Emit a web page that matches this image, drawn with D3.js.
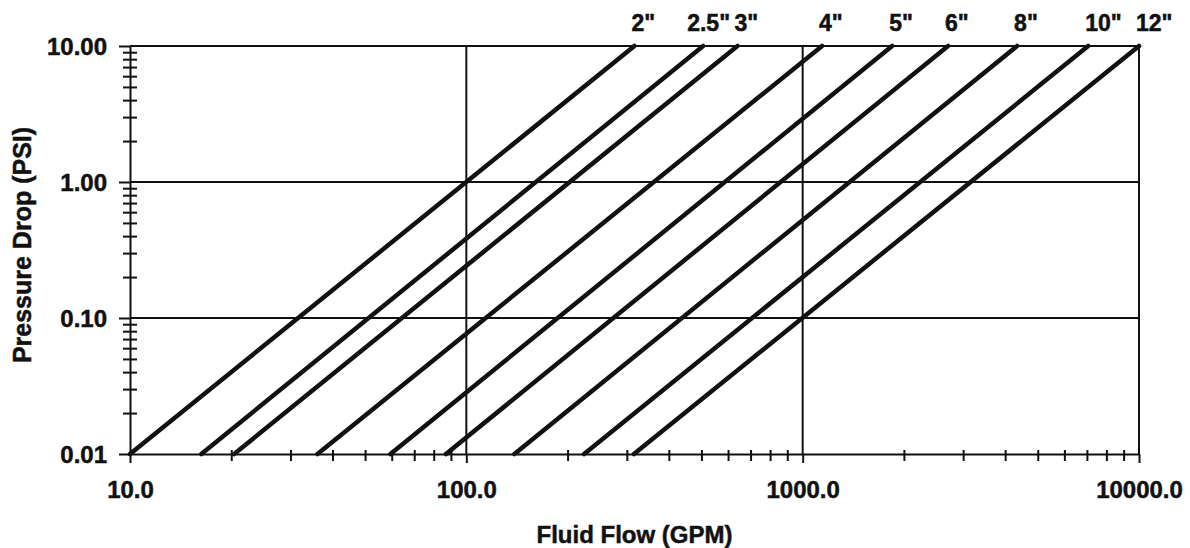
<!DOCTYPE html>
<html>
<head>
<meta charset="utf-8">
<script src="https://cdn.jsdelivr.net/npm/d3@7"></script>
<style>
  html, body { margin: 0; padding: 0; background: #fff; }
  svg { display: block; }
  text { font-family: "Liberation Sans", Arial, sans-serif; font-weight: bold; fill: #111; stroke: #111; stroke-width: 0.5px; }
</style>
</head>
<body>
<svg id="chart" width="1190" height="548"></svg>
<script>
// ---- data ----
const pipeSizes = ['2"', '2.5"', '3"', '4"', '5"', '6"', '8"', '10"', '12"'];
// flow (GPM) where each line meets P = 0.01 psi (bottom) and P = 10 psi (top)
const flowAtMinPressure = [10, 16.3, 20.4, 36.1, 59.5, 87, 139, 224, 315];
const flowAtMaxPressure = [316, 506, 640, 1142, 1845, 2706, 4341, 7060, 10000];
const pressureMin = 0.01;
const pressureMax = 10;
const xMajorTicks = [10, 100, 1000, 10000];
const xMajorLabels = ["10.0", "100.0", "1000.0", "10000.0"];
const yMajorTicks = [0.01, 0.1, 1, 10];
const yMajorLabels = ["0.01", "0.10", "1.00", "10.00"];
const xTitle = "Fluid Flow (GPM)";
const yTitle = "Pressure Drop (PSI)";

// ---- layout ----
const svg = d3.select("#chart");
const L = 130, R = 1139, T = 46, B = 454;
const ink = "#111";
const labelShift = { '2.5"': -13 };

const x = d3.scaleLog().domain([10, 10000]).range([L, R]);
const y = d3.scaleLog().domain([0.01, 10]).range([B, T]);

const minorOf = (majors) => {
  const out = [];
  for (let i = 0; i < majors.length - 1; i++)
    for (let k = 2; k <= 9; k++) out.push(majors[i] * k);
  return out;
};
const xMinor = minorOf(xMajorTicks);
const yMinor = minorOf(yMajorTicks);

// grid lines (interior decades)
svg.append("g").selectAll("line.vg")
  .data(xMajorTicks.slice(1, -1)).join("line")
  .attr("x1", d => x(d)).attr("x2", d => x(d))
  .attr("y1", T).attr("y2", B)
  .attr("stroke", ink).attr("stroke-width", 2);
svg.append("g").selectAll("line.hg")
  .data(yMajorTicks.slice(1, -1)).join("line")
  .attr("x1", L).attr("x2", R)
  .attr("y1", d => y(d)).attr("y2", d => y(d))
  .attr("stroke", ink).attr("stroke-width", 2);

// frame top & right
svg.append("line").attr("x1", L).attr("x2", R).attr("y1", T).attr("y2", T)
  .attr("stroke", ink).attr("stroke-width", 2);
svg.append("line").attr("x1", R).attr("x2", R).attr("y1", T).attr("y2", B)
  .attr("stroke", ink).attr("stroke-width", 2);

const styleText = sel => sel
  .style("font-size", "24px").style("font-family", "'Liberation Sans', Arial, sans-serif")
  .style("font-weight", "bold").attr("fill", ink).attr("stroke", ink).attr("stroke-width", 0.5);

// x axis
const xAxisMinor = svg.append("g").attr("transform", `translate(0,${B})`)
  .call(d3.axisBottom(x).tickValues(xMinor).tickSize(7).tickFormat(""));
xAxisMinor.selectAll(".tick line").attr("y1", -4).attr("stroke", ink).attr("stroke-width", 2);
xAxisMinor.select(".domain").remove();

const xAxisMajor = svg.append("g").attr("transform", `translate(0,${B})`)
  .call(d3.axisBottom(x).tickValues(xMajorTicks).tickSize(9).tickSizeOuter(0)
    .tickFormat((d, i) => xMajorLabels[i]));
xAxisMajor.select(".domain").attr("stroke", ink).attr("stroke-width", 2);
xAxisMajor.selectAll(".tick line").attr("stroke", ink).attr("stroke-width", 2);
xAxisMajor.selectAll(".tick text").attr("y", 44).attr("dy", 0).call(styleText);

// y axis
const yAxisMinor = svg.append("g").attr("transform", `translate(${L},0)`)
  .call(d3.axisLeft(y).tickValues(yMinor).tickSize(7).tickFormat(""));
yAxisMinor.selectAll(".tick line").attr("x1", 7).attr("stroke", ink).attr("stroke-width", 2);
yAxisMinor.select(".domain").remove();

const yAxisMajor = svg.append("g").attr("transform", `translate(${L},0)`)
  .call(d3.axisLeft(y).tickValues(yMajorTicks).tickSize(11).tickSizeOuter(0)
    .tickFormat((d, i) => yMajorLabels[i]));
yAxisMajor.select(".domain").attr("stroke", ink).attr("stroke-width", 2);
yAxisMajor.selectAll(".tick line").attr("stroke", ink).attr("stroke-width", 2);
yAxisMajor.selectAll(".tick text").attr("x", -23).attr("dy", "0.36em").call(styleText);

// pipe lines
const line = d3.line().x(d => x(d[0])).y(d => y(d[1]));
const lineData = pipeSizes.map((s, i) => ({
  size: s,
  pts: [[flowAtMinPressure[i], pressureMin], [flowAtMaxPressure[i], pressureMax]]
}));
svg.append("g").selectAll("path").data(lineData).join("path")
  .attr("d", d => line(d.pts))
  .attr("fill", "none").attr("stroke", ink).attr("stroke-width", 4.5)
  .attr("stroke-linecap", "round");

// line labels at the top
svg.append("g").selectAll("text").data(lineData).join("text")
  .attr("x", d => x(d.pts[1][0]) - 3 + (labelShift[d.size] || 0))
  .attr("y", 31)
  .attr("text-anchor", "start")
  .style("font-size", "23px")
  .text(d => d.size);

// axis titles
svg.append("text").attr("x", (L + R) / 2).attr("y", 543)
  .attr("text-anchor", "middle").style("font-size", "24px").text(xTitle);
svg.append("text").attr("transform", `translate(31,${(T + B) / 2 - 5}) rotate(-90)`)
  .attr("text-anchor", "middle").style("font-size", "25px").text(yTitle);
</script>
</body>
</html>
